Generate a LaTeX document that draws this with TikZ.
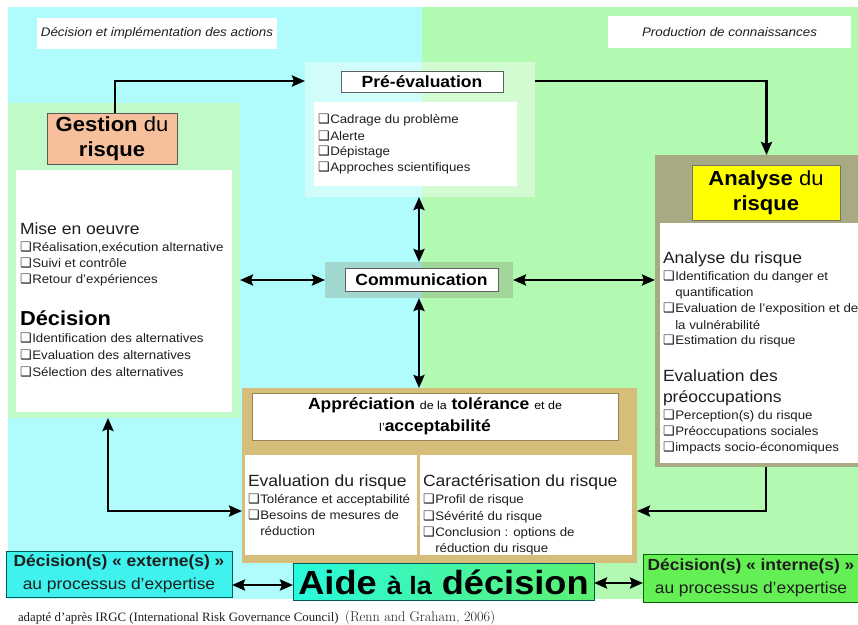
\documentclass[tikz,border=0pt]{standalone}
\usepackage{fontspec}
\setmainfont{Liberation Sans}[FakeStretch=1.08]
\newfontfamily\dejavu{DejaVu Sans}
\newfontfamily\capserif{Liberation Serif}
\newfontfamily\lmr{Latin Modern Roman}
\usetikzlibrary{arrows.meta,fit}
\definecolor{cyanbg}{RGB}{176,251,251}
\definecolor{greenbg}{RGB}{178,249,178}
\definecolor{gpanelc}{RGB}{192,250,200}
\definecolor{salmonc}{RGB}{246,192,156}
\definecolor{olivec}{RGB}{168,170,132}
\definecolor{yellowc}{RGB}{255,255,0}
\definecolor{tanc}{RGB}{214,190,122}
\definecolor{extc}{RGB}{64,242,238}
\definecolor{intc}{RGB}{100,240,84}
\definecolor{aidel}{RGB}{40,250,222}
\definecolor{aider}{RGB}{92,240,112}
\definecolor{txtc}{RGB}{30,30,30}
\newcommand\cbx{{\dejavu\fontsize{13}{13}\selectfont ❑}\kern0.6pt}
\newcommand\cbi{\phantom{\cbx}}
\begin{document}
\begin{tikzpicture}[x=1pt,y=-1pt,
  every node/.style={inner sep=0pt, outer sep=0pt},
  tipx/.tip={Stealth[length=13pt,width=11pt,inset=2pt]},
  arr/.style={line width=2.6pt, -tipx},
  dblarr/.style={line width=2.6pt, tipx-tipx},
  item/.style={anchor=base west, font=\fontsize{12.3}{14}\selectfont, text=txtc},
  head/.style={anchor=base west, font=\fontsize{16.2}{19}\selectfont, text=txtc},
  headb/.style={anchor=base west, font=\fontsize{20.2}{24}\bfseries\selectfont, text=black},
  whitebox/.style={fill=white},
  titlebox/.style={fill=white, draw=gray!75!black, line width=0.9pt},
]
\useasboundingbox (0,0) rectangle (858,624);
\fill[white] (0,0) rectangle (858,624);
% backgrounds
\fill[cyanbg] (8,7) rectangle (422,599);
\fill[greenbg] (422,7) rectangle (858,599);

% header labels
\node[fit={(37,18)(277,49)}, whitebox] (hl) {};
\node[font=\fontsize{12.4}{14}\itshape\selectfont, text=txtc] (hlt) at (hl.center) {Décision et implémentation des actions};
\node[fit={(608,16)(851,48)}, whitebox] (hr) {};
\node[font=\fontsize{12.4}{14}\itshape\selectfont, text=txtc] (hrt) at (hr.center) {Production de connaissances};

% Gestion du risque
\node[fit={(8,103)(240,418)}, fill=gpanelc] (gpanel) {};
\node[fit={(16,170)(232,412)}, whitebox] (gwhite) {};
\node[fit={(47,113)(177,164)}, fill=salmonc, draw=gray!70!black, line width=0.8pt] (gest) {};
\node[font=\fontsize{20.4}{25}\selectfont, align=center] (gestt) at (gest.center) {\textbf{Gestion} du\\\textbf{risque}};
\node[head] (gm) at (20,234) {Mise en oeuvre};
\node[item] (g1) at (20,251.5) {\cbx Réalisation,exécution alternative};
\node[item] (g2) at (20,267.5) {\cbx Suivi et contrôle};
\node[item] (g3) at (20,283.5) {\cbx Retour d'expériences};
\node[headb] (gd) at (20,325) {Décision};
\node[item] (g4) at (20,342.5) {\cbx Identification des alternatives};
\node[item] (g5) at (20,359.5) {\cbx Evaluation des alternatives};
\node[item] (g6) at (20,376.5) {\cbx Sélection des alternatives};

% Pre-evaluation
\node[fit={(305,62)(535,197)}, fill=white, fill opacity=0.42] (pre) {};
\node[fit={(341,71)(503,92)}, titlebox] (pret) {};
\node[font=\fontsize{16.2}{19}\bfseries\selectfont] (pretx) at (pret.center) {Pré-évaluation};
\node[fit={(314,102)(517,186)}, whitebox] (prew) {};
\node[item] (p1) at (318,123.5) {\cbx Cadrage du problème};
\node[item] (p2) at (318,140) {\cbx Alerte};
\node[item] (p3) at (318,155.5) {\cbx Dépistage};
\node[item] (p4) at (318,171.5) {\cbx Approches scientifiques};

% Analyse du risque
\node[fit={(655,155)(872,467)}, fill=olivec] (an) {};
\node[fit={(692,165)(840,220)}, fill=yellowc, draw=olivec!70!black, line width=0.8pt] (ant) {};
\node[font=\fontsize{20.4}{25}\selectfont, align=center] (antx) at (ant.center) {\textbf{Analyse} du\\\textbf{risque}};
\node[fit={(660,223)(872,463)}, whitebox] (anw) {};
\node[head] (a0) at (663,263) {Analyse du risque};
\node[item] (a1) at (663,280.5) {\cbx Identification du danger et};
\node[item] (a2) at (663,296.5) {\cbi quantification};
\node[item] (a3) at (663,312.5) {\cbx Evaluation de l'exposition et de};
\node[item] (a4) at (663,329.5) {\cbi la vulnérabilité};
\node[item] (a5) at (663,344.5) {\cbx Estimation du risque};
\node[head] (a6) at (663,381) {Evaluation des};
\node[head] (a7) at (663,402) {préoccupations};
\node[item] (a8) at (663,419.5) {\cbx Perception(s) du risque};
\node[item] (a9) at (663,435.5) {\cbx Préoccupations sociales};
\node[item] (a10) at (663,451.5) {\cbx impacts socio-économiques};

% Communication
\node[fit={(325,262)(513,298)}, fill={rgb,255:red,120;green,125;blue,90}, fill opacity=0.28] (com) {};
\node[fit={(345,268)(498,291)}, titlebox] (comt) {};
\node[font=\fontsize{16.2}{19}\bfseries\selectfont] (comtx) at (comt.center) {Communication};

% Appreciation
\node[fit={(242,388)(637,563)}, fill=tanc] (appr) {};
\node[fit={(252,393)(618,440)}, fill=white, draw=tanc!70!black, line width=0.8pt] (apprt) {};
\node[font=\fontsize{16.2}{22}\selectfont, align=center] (apprtx) at (apprt.center)
  {\textbf{Appréciation} {\fontsize{11.5}{22}\selectfont de la} \textbf{tolérance} {\fontsize{11.5}{22}\selectfont et de}\\{\fontsize{11.5}{22}\selectfont l'}\textbf{acceptabilité}};
\node[fit={(245,455)(632,555)}, whitebox] (apprw) {};
\fill[tanc] (416.5,455) rectangle (419.5,555);
\node[head] (e0) at (248,486) {Evaluation du risque};
\node[item] (e1) at (248,503.5) {\cbx Tolérance et acceptabilité};
\node[item] (e2) at (248,519.5) {\cbx Besoins de mesures de};
\node[item] (e3) at (248,535.5) {\cbi réduction};
\node[head] (c0) at (423,486) {Caractérisation du risque};
\node[item] (c1) at (423,503.5) {\cbx Profil de risque};
\node[item] (c2) at (423,520) {\cbx Sévérité du risque};
\node[item] (c3) at (423,536.5) {\cbx Conclusion : options de};
\node[item] (c4) at (423,552) {\cbi réduction du risque};

% bottom boxes
\node[fit={(6,551)(232,597)}, fill=extc, draw=teal!70!black, line width=0.8pt] (ext) {};
\node[font=\fontsize{16.1}{23}\selectfont, align=center, text=txtc] (extx) at (ext.center) {\textbf{Décision(s) « externe(s) »}\\au processus d'expertise};
\node[fit={(293,563)(594,600)}, left color=aidel, right color=aider, draw=teal!70!black, line width=0.8pt] (aide) {};
\node[anchor=base, text=black] (aidex) at (443.5,594) {\fontsize{33.5}{36}\bfseries\selectfont Aide {\fontsize{25}{30}\selectfont à la} décision};
\node[fit={(643,554)(872,602)}, fill=intc, draw=green!40!black, line width=0.8pt] (int) {};
\node[font=\fontsize{16.1}{23}\selectfont, align=center, text=txtc] (intx) at (751,578) {\textbf{Décision(s) « interne(s) »}\\au processus d'expertise};

% caption
\node[anchor=base west, font=\fontsize{12.8}{14}\capserif, text=txtc] (cap1) at (18,621) {adapté d’après IRGC (International Risk Governance Council)};
\node[anchor=base west, font=\fontsize{14.2}{15}\lmr, text=txtc] (cap2) at (345,621) {(Renn and Graham, 2006)};

% connectors
\coordinate (ya) at (0,81);
\coordinate (cx) at (419,0);
\coordinate (gy) at (0,511);
\coordinate (gx) at (108,0);
\coordinate (ax) at (766,0);
\coordinate (yb1) at (0,585);
\coordinate (yb2) at (0,583);
\draw[arr] ([xshift=3pt]gest.north) |- (pre.west |- ya);
\draw[arr] (pre.east |- ya) -| ([xshift=3pt]an.north);
\draw[dblarr] (pre.south -| cx) -- (com.north -| cx);
\draw[dblarr] (com.south -| cx) -- (appr.north -| cx);
\draw[dblarr] (gpanel.east |- com.west) -- (com.west);
\draw[dblarr] (com.east) -- (an.west |- com.east);
\draw[dblarr] (gpanel.south -| gx) |- (appr.west |- gy);
\draw[arr] (an.south -| ax) |- (appr.east |- gy);
\draw[dblarr] (ext.east |- yb1) -- (aide.west |- yb1);
\draw[dblarr] (aide.east |- yb2) -- (int.west |- yb2);
\end{tikzpicture}
\end{document}
